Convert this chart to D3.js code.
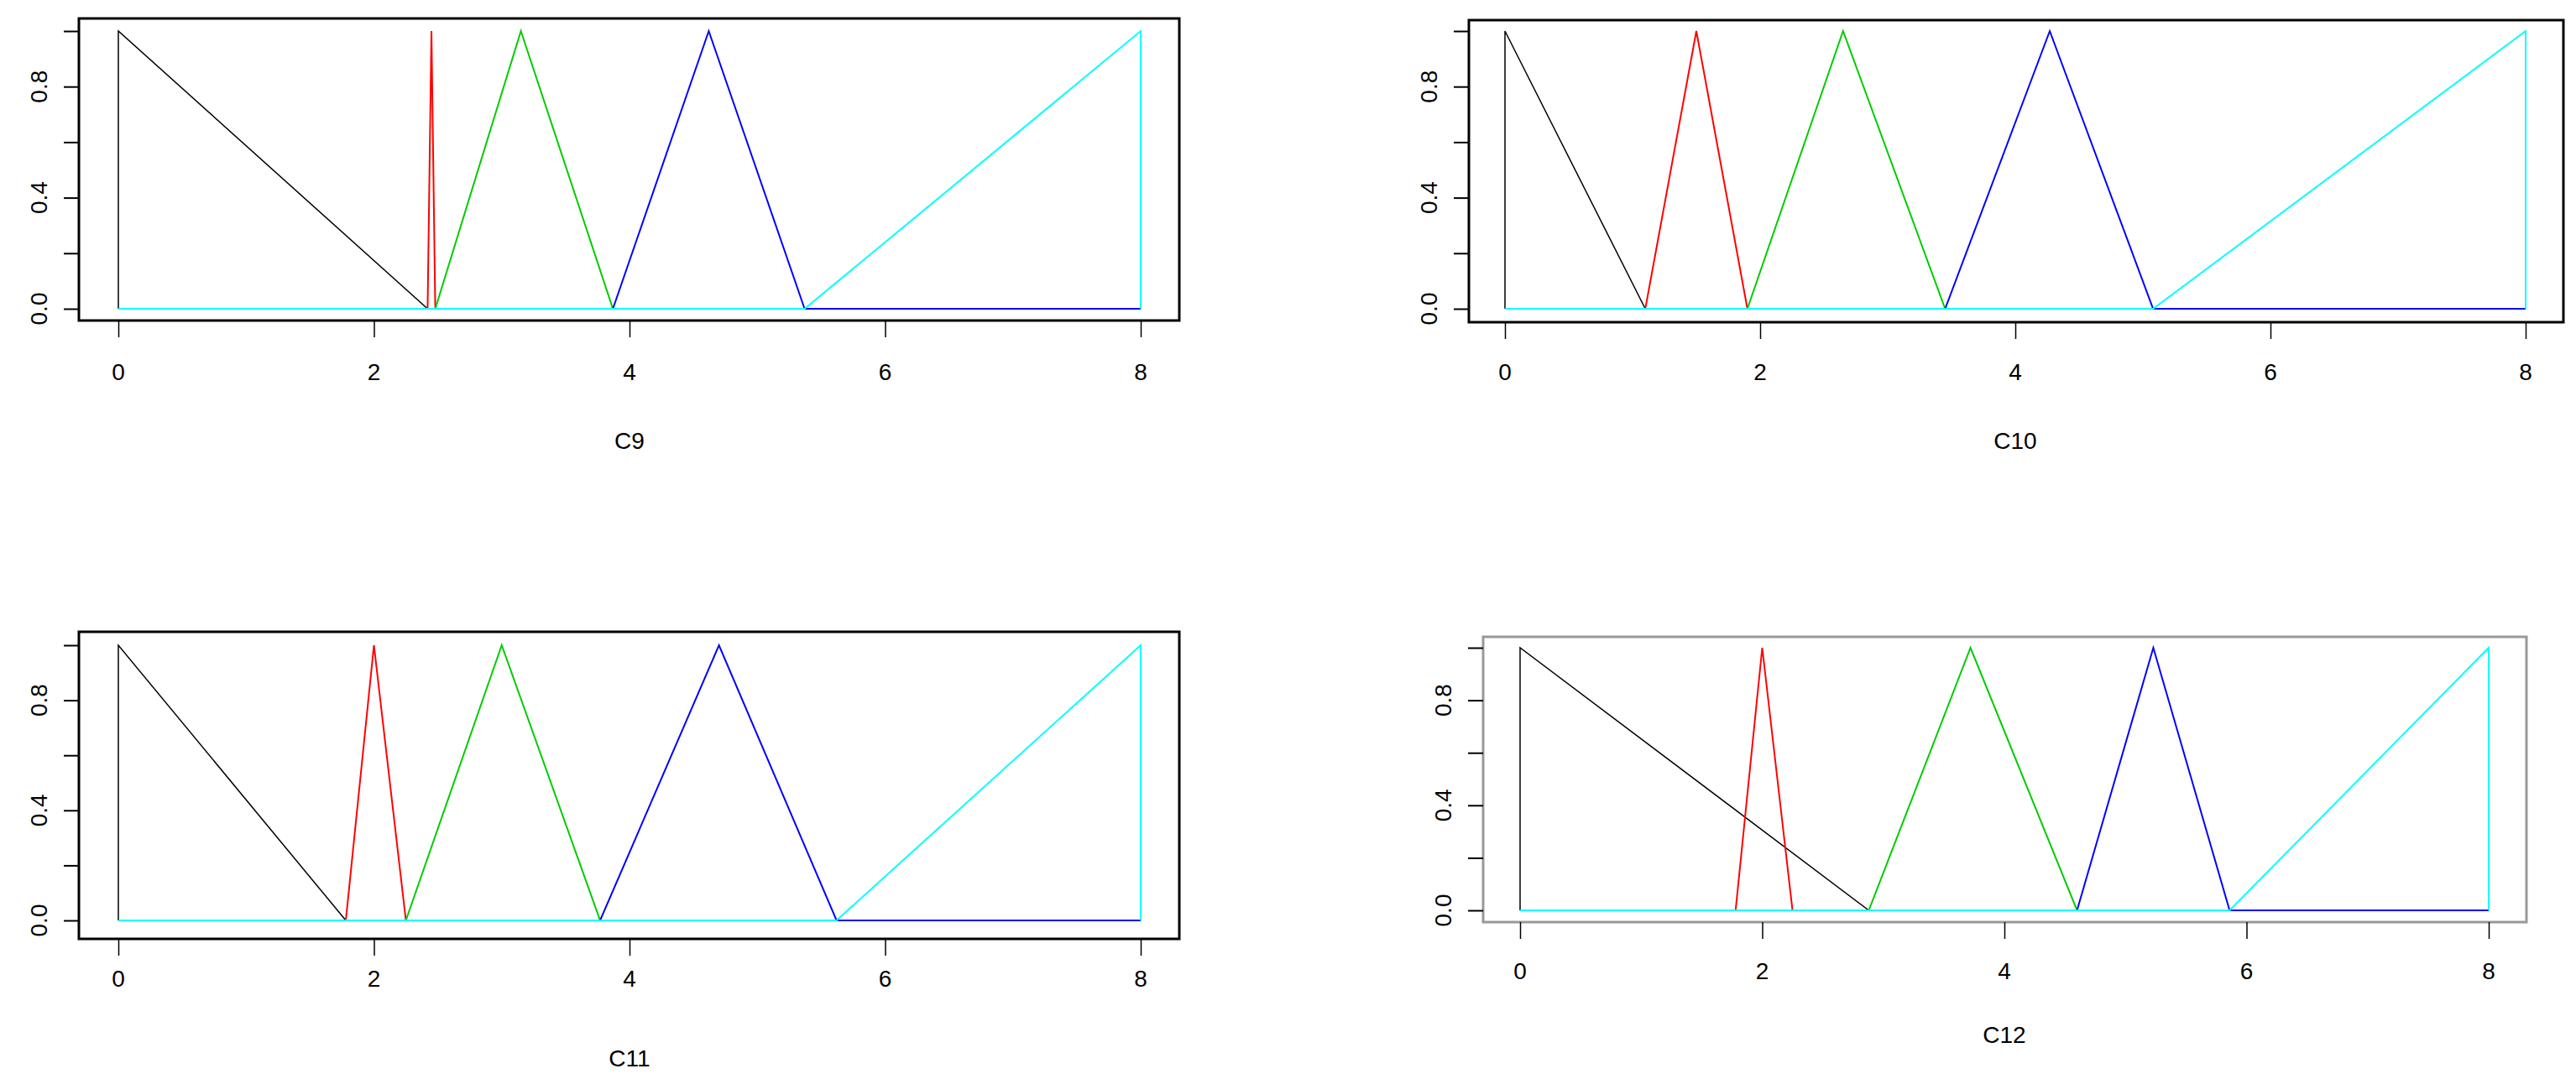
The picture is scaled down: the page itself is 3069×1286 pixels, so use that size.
<!DOCTYPE html><html><head><meta charset="utf-8"><script src="https://cdn.jsdelivr.net/npm/d3@7"></script>
<style>body{margin:0;background:#fff}</style></head><body><svg id="c" width="3069" height="1286"></svg>
<script>
const panelTitles=["C9","C10","C11","C12"];
const xTicks=[0,2,4,6,8];
const yTicks=[0,0.2,0.4,0.6,0.8,1.0];
const yLabels={0:"0.0",0.4:"0.4",0.8:"0.8"};
const colors=["black","red","#00cc00","blue","cyan"];
// per-panel membership breakpoints [x...] with y values [1,0]...
const blackEnd=[2.42,1.1,1.78,2.88];
const redTri=[[2.42,2.45,2.48],[1.1,1.5,1.9],[1.78,2.0,2.25],[1.78,2.0,2.25]];
const greenTri=[[2.48,3.15,3.87],[1.9,2.65,3.45],[2.25,3.0,3.77],[2.88,3.72,4.6]];
const blueTri=[[3.87,4.62,5.37],[3.45,4.27,5.08],[3.77,4.7,5.62],[4.6,5.23,5.86]];
const cyanStart=[5.37,5.08,5.62,5.86];
const layout=[
 {box:[94,22,1405,382],x:[141,1359],y:[368,37],lab:443,tit:525,frame:"black"},
 {box:[1750,24,3054,384],x:[1793,3009],y:[368,37],lab:443,tit:525,frame:"black"},
 {box:[94,753,1405,1119],x:[141,1359],y:[1097,769],lab:1166,tit:1261,frame:"black"},
 {box:[1767,759,3010,1099],x:[1811,2965],y:[1085,772],lab:1157,tit:1233,frame:"#999"}
];
const svg=d3.select("#c");
layout.forEach((L,i)=>{
 const g=svg.append("g");
 const x=d3.scaleLinear().domain([0,8]).range(L.x);
 const y=d3.scaleLinear().domain([0,1]).range(L.y);
 const series=[
  [[0,0],[0,1],[blackEnd[i],0],[8,0]],
  [[0,0],[redTri[i][0],0],[redTri[i][1],1],[redTri[i][2],0],[8,0]],
  [[0,0],[greenTri[i][0],0],[greenTri[i][1],1],[greenTri[i][2],0],[8,0]],
  [[0,0],[blueTri[i][0],0],[blueTri[i][1],1],[blueTri[i][2],0],[8,0]],
  [[0,0],[cyanStart[i],0],[8,1],[8,0]]
 ];
 const line=d3.line().x(d=>x(d[0])).y(d=>y(d[1]));
 series.forEach((s,k)=>g.append("path").attr("d",line(s)).attr("fill","none").attr("stroke",colors[k]).attr("stroke-width",k==0?1.5:2));
 g.append("rect").attr("x",L.box[0]).attr("y",L.box[1]).attr("width",L.box[2]-L.box[0]).attr("height",L.box[3]-L.box[1]).attr("fill","none").attr("stroke",L.frame).attr("stroke-width",3);
 const xa=g.append("g").attr("transform",`translate(0,${L.box[3]})`).call(d3.axisBottom(x).tickValues(xTicks).tickSize(20).tickPadding(0).tickFormat(()=>""));
 xa.select(".domain").remove();
 xa.selectAll("line").attr("stroke","black").attr("stroke-width",1.5);
 xTicks.forEach(t=>g.append("text").attr("x",x(t)).attr("y",L.lab+10).attr("text-anchor","middle").attr("font-family","Liberation Sans, Arial").attr("font-size",28).text(t));
 const ya=g.append("g").attr("transform",`translate(${L.box[0]},0)`).call(d3.axisLeft(y).tickValues(yTicks).tickSize(18).tickFormat(()=>""));
 ya.select(".domain").remove();
 ya.selectAll("line").attr("stroke","black").attr("stroke-width",2);
 yTicks.filter(t=>yLabels[t]).forEach(t=>g.append("text").attr("transform",`translate(${L.box[0]-38},${y(t)}) rotate(-90)`).attr("text-anchor","middle").attr("font-family","Liberation Sans, Arial").attr("font-size",28).text(yLabels[t]));
 g.append("text").attr("x",(L.x[0]+L.x[1])/2).attr("y",L.tit+10).attr("text-anchor","middle").attr("font-family","Liberation Sans, Arial").attr("font-size",28).text(panelTitles[i]);
});
</script></body></html>
